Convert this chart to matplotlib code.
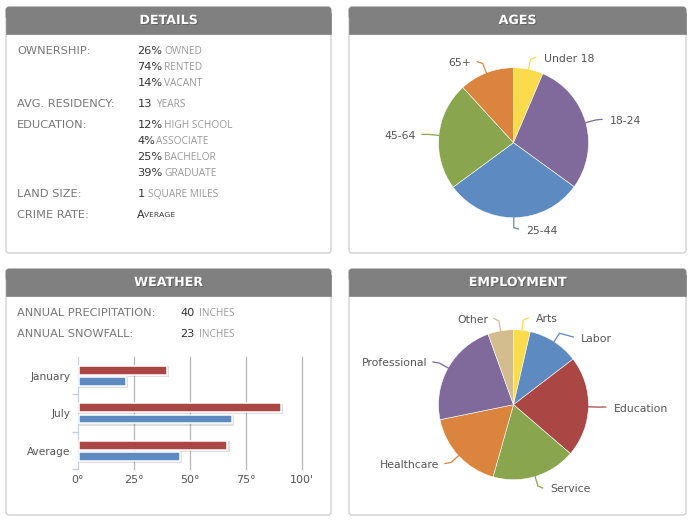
# -*- coding: utf-8 -*-
import math
import matplotlib
matplotlib.use('Agg')
import matplotlib.pyplot as plt
import matplotlib.patheffects as pe
from matplotlib.patches import FancyBboxPatch, Rectangle

W, H = 695, 522

# data
age_labels = ['Under 18', '18-24', '25-44', '45-64', '65+']
age_values = [6.4, 28.6, 29.9, 23.3, 11.8]
job_labels = ['Arts', 'Labor', 'Education', 'Service', 'Healthcare', 'Professional', 'Other']
job_values = [3.6, 11.0, 21.7, 18.1, 17.4, 22.7, 5.5]
months = ['January', 'July', 'Average']
temp_high = [39, 90, 66]
temp_low = [21, 68, 45]
temp_ticks = [0, 25, 50, 75, 100]
temp_tick_labels = ['0°', '25°', '50°', '75°', "100'"]
ownership = [('26%', 'OWNED'), ('74%', 'RENTED'), ('14%', 'VACANT')]
education = [('12%', 'HIGH SCHOOL'), ('4%', 'ASSOCIATE'), ('25%', 'BACHELOR'), ('39%', 'GRADUATE')]

# colours and layout
RED, BLUE, PURPLE, GREEN = '#AA4643', '#5D8AC0', '#80699B', '#89A54E'
ORANGE, YELLOW, TAN = '#DB843D', '#FADB4C', '#D3BC8D'
age_colors = [YELLOW, PURPLE, BLUE, GREEN, ORANGE]
job_colors = [YELLOW, BLUE, RED, GREEN, ORANGE, PURPLE, TAN]
# where each leader line ends, in pixels
age_ends = [(535.7, 57.3), (602, 119.3), (518.5, 229), (422, 134.3), (477.3, 61.7)]
job_ends = [(528.3, 318), (573.3, 337), (605.7, 407), (542.7, 488), (445, 463.5), (433, 362), (494, 318.5)]
FONT = 'DejaVu Sans'
SMALL = 'Open Sans'

fig = plt.figure(figsize=(W / 100, H / 100), dpi=100, facecolor='white')
bg = fig.add_axes([0, 0, 1, 1])
bg.set_xlim(0, W)
bg.set_ylim(H, 0)
bg.axis('off')

# overlay for leader lines, above the pies
top = fig.add_axes([0, 0, 1, 1], zorder=5)
top.set_xlim(0, W)
top.set_ylim(H, 0)
top.axis('off')
top.patch.set_alpha(0)


def panel(x0, y0, x1, y1, title):
    bg.add_patch(FancyBboxPatch((x0, y0), x1 - x0, y1 - y0, boxstyle='round,pad=0,rounding_size=3',
                                fc='white', ec='#CCCCCC', lw=0.9))
    bg.add_patch(FancyBboxPatch((x0, y0), x1 - x0, 12, boxstyle='round,pad=0,rounding_size=3',
                                fc='#808080', ec='#808080', lw=0.5))
    bg.add_patch(Rectangle((x0, y0 + 6), x1 - x0, 21, fc='#808080', ec='#808080', lw=0.5))
    t = bg.text((x0 + x1) / 2, y0 + 13.5, title, color='white', fontsize=9.1, fontweight='bold',
                family=FONT, ha='center', va='center')
    t.set_path_effects([pe.withSimplePatchShadow(offset=(0.7, -0.7), shadow_rgbFace='#444444', alpha=0.5)])


def label(x, y, s):
    bg.text(x, y, s, color='#777777', fontsize=8.2, family=FONT, ha='left', va='center')


def value(x, y, s, unit, unit_x):
    bg.text(x, y, s, color='#333333', fontsize=8.2, family=FONT, ha='left', va='center')
    bg.text(unit_x, y + 0.5, unit, color='#999999', fontsize=7.3, family=SMALL, ha='left', va='center')


def pie(cx, cy, r, values, names, colors, ends):
    ax = fig.add_axes([(cx - r) / W, 1 - (cy + r) / H, 2 * r / W, 2 * r / H])
    wedges, _ = ax.pie(values, colors=colors, startangle=90, counterclock=False, radius=1,
                       wedgeprops={'edgecolor': 'white', 'linewidth': 0.4})
    ax.set_xlim(-1, 1)
    ax.set_ylim(-1, 1)
    for w in wedges:
        w.set_clip_on(False)
    for w, name, c, end in zip(wedges, names, colors, ends):
        mid = math.radians((w.theta1 + w.theta2) / 2)
        ux, uy = math.cos(mid), -math.sin(mid)
        xs = [cx + r * ux, cx + (r + 10) * ux, end[0]]
        ys = [cy + r * uy, cy + (r + 10) * uy, end[1]]
        top.plot(xs, ys, color=c, lw=0.9, solid_joinstyle='round')
        right = ux >= 0
        top.text(end[0] + (8 if right else -6), end[1] + 1.5, name, color='#555555', fontsize=7.8, family=FONT,
                 ha='left' if right else 'right', va='center')


panel(6, 7, 331, 253, 'DETAILS')
panel(349, 7, 686, 253, 'AGES')
panel(6, 269, 331, 515, 'WEATHER')
panel(349, 269, 686, 515, 'EMPLOYMENT')

# details
label(17, 51, 'OWNERSHIP:')
for (pct, name), y in zip(ownership, [51, 67, 83]):
    value(137.5, y, pct, name, 164)
label(17, 104, 'AVG. RESIDENCY:')
value(137.5, 104, '13', 'YEARS', 156.5)
label(17, 125, 'EDUCATION:')
for (pct, name), y in zip(education, [125, 141, 157, 173]):
    value(137.5, y, pct, name, 156.5 if len(pct) == 2 else 164)
label(17, 194, 'LAND SIZE:')
value(137.5, 194, '1', 'SQUARE MILES', 148.5)
label(17, 215, 'CRIME RATE:')
bg.text(137, 215, 'A', color='#333333', fontsize=8, family=FONT, ha='left', va='center')
bg.text(144.5, 215.5, 'VERAGE', color='#333333', fontsize=6, family=SMALL, ha='left', va='center')

# weather
label(17, 313, 'ANNUAL PRECIPITATION:')
value(180.3, 313, '40', 'INCHES', 199.3)
label(17, 334, 'ANNUAL SNOWFALL:')
value(180.3, 334, '23', 'INCHES', 199.3)

x0, x1, y0, y1 = 77.7, 302.3, 357, 469.3
ax = fig.add_axes([x0 / W, 1 - y1 / H, (x1 - x0) / W, (y1 - y0) / H], zorder=3)
ax.patch.set_alpha(0)
pos = list(range(len(months)))
for vals, off, c in [(temp_high, -0.145, RED), (temp_low, 0.155, BLUE)]:
    ypos = [p + off for p in pos]
    # soft shadow under each bar
    ax.barh([p + 0.035 for p in ypos], [v + 1.0 for v in vals], height=0.29, left=0.6,
            color='#000000', alpha=0.13, zorder=2)
    ax.barh(ypos, vals, height=0.235, left=0.6, color=c, edgecolor='white', linewidth=1.1, zorder=3)
ax.set_xlim(0, 100)
ax.set_ylim(2.5, -0.5)
ax.set_xticks(temp_ticks)
ax.set_xticklabels(temp_tick_labels, color='#555555', fontsize=8, family=FONT)
ax.set_yticks(pos)
ax.set_yticklabels(months, color='#555555', fontsize=7.6, family=FONT)
ax.tick_params(axis='x', length=0, pad=4)
ax.tick_params(axis='y', length=0, pad=5)
ax.set_yticks([0.5, 1.5, 2.5], minor=True)
ax.tick_params(axis='y', which='minor', length=4, color='#C0D0E0', width=1)
ax.grid(axis='x', color='#B5B5B5', lw=0.9, zorder=1)
for gl in ax.get_xgridlines()[:1]:
    gl.set_visible(False)
for gl in ax.get_xgridlines():
    gl.set_clip_on(False)
ax.set_axisbelow(True)
for s in ['top', 'right', 'bottom']:
    ax.spines[s].set_visible(False)
ax.spines['left'].set_color('#C0D0E0')

# pies
pie(513.5, 142.7, 75, age_values, age_labels, age_colors, age_ends)
pie(513.5, 404.7, 75, job_values, job_labels, job_colors, job_ends)

fig.savefig('out.png', dpi=100)
